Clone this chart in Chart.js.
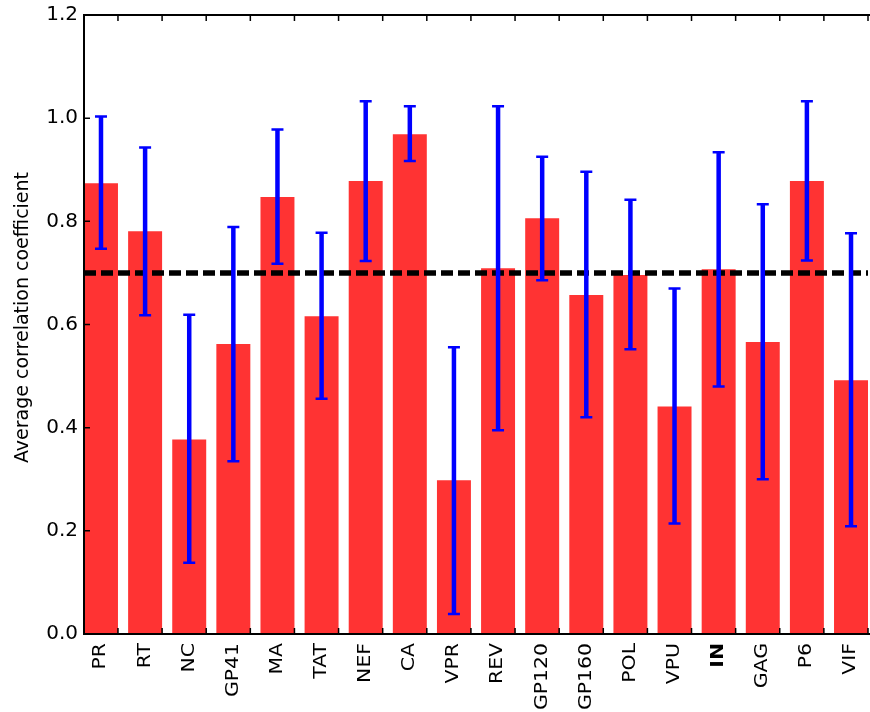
<!DOCTYPE html>
<html>
<head>
<meta charset="utf-8">
<script src="https://cdn.jsdelivr.net/npm/chart.js@4.4.1/dist/chart.umd.min.js"></script>
<style>
  html, body { margin: 0; padding: 0; background: #fff; }
  #wrap { width: 870px; height: 712px; }
</style>
</head>
<body>
<div id="wrap"><canvas id="chart"></canvas></div>
<script>
const genes = ["PR", "RT", "NC", "GP41", "MA", "TAT", "NEF", "CA", "VPR", "REV", "GP120", "GP160", "POL", "VPU", "IN", "GAG", "P6", "VIF"];
const meanCorr = [0.874, 0.781, 0.377, 0.562, 0.847, 0.616, 0.878, 0.969, 0.298, 0.709, 0.806, 0.657, 0.696, 0.441, 0.707, 0.566, 0.878, 0.492];
const errTop = [1.003, 0.943, 0.619, 0.789, 0.978, 0.778, 1.033, 1.023, 0.556, 1.023, 0.925, 0.896, 0.842, 0.670, 0.934, 0.833, 1.033, 0.777];
const errBottom = [0.747, 0.618, 0.138, 0.335, 0.718, 0.456, 0.723, 0.917, 0.039, 0.395, 0.686, 0.420, 0.552, 0.214, 0.480, 0.300, 0.724, 0.209];
const yTicks = [0.0, 0.2, 0.4, 0.6, 0.8, 1.0, 1.2];
const threshold = 0.7;
const yTitle = "Average correlation coefficient";

const barWidth = 0.77; // bar width in category units, bars start at integer positions
const xMax = genes.length - 1 + barWidth;
const font = "'DejaVu Sans', 'Bitstream Vera Sans', sans-serif";

// frame, inward ticks, labels and error bars, all placed through the chart scales
const axesPlugin = {
  id: "axesPlugin",
  afterDatasetsDraw(chart) {
    const { ctx, chartArea: a, scales: { x, y } } = chart;
    ctx.save();

    // error bars
    ctx.strokeStyle = "#0000ff";
    genes.forEach(function (g, i) {
      const px = x.getPixelForValue(i + barWidth / 2);
      const top = y.getPixelForValue(errTop[i]);
      const bot = y.getPixelForValue(errBottom[i]);
      ctx.lineWidth = 4.5;
      ctx.beginPath();
      ctx.moveTo(px, top);
      ctx.lineTo(px, bot);
      ctx.stroke();
      ctx.lineWidth = 2.5;
      ctx.beginPath();
      ctx.moveTo(px - 6, top);
      ctx.lineTo(px + 6, top);
      ctx.moveTo(px - 6, bot);
      ctx.lineTo(px + 6, bot);
      ctx.stroke();
    });

    // frame (right spine falls off the picture)
    ctx.strokeStyle = "#000";
    ctx.lineWidth = 2;
    ctx.beginPath();
    ctx.moveTo(a.right + 2, a.top);
    ctx.lineTo(a.left, a.top);
    ctx.lineTo(a.left, a.bottom);
    ctx.lineTo(a.right + 2, a.bottom);
    ctx.stroke();

    // inward ticks
    ctx.lineWidth = 1.5;
    ctx.beginPath();
    yTicks.forEach(function (v) {
      const py = y.getPixelForValue(v);
      ctx.moveTo(a.left, py);
      ctx.lineTo(a.left + 6, py);
    });
    genes.forEach(function (g, i) {
      const px = x.getPixelForValue(i + barWidth);
      ctx.moveTo(px, a.bottom);
      ctx.lineTo(px, a.bottom - 6);
      ctx.moveTo(px, a.top);
      ctx.lineTo(px, a.top + 6);
    });
    ctx.stroke();

    // y tick labels
    ctx.fillStyle = "#000";
    ctx.font = "20px " + font;
    ctx.textAlign = "right";
    ctx.textBaseline = "middle";
    yTicks.forEach(function (v) {
      ctx.fillText(v.toFixed(1), a.left - 6, y.getPixelForValue(v));
    });

    // x tick labels, rotated, a little drawn out along the reading direction
    genes.forEach(function (g, i) {
      const px = x.getPixelForValue(i + barWidth / 2);
      ctx.save();
      ctx.translate(px, a.bottom + 9);
      ctx.rotate(-Math.PI / 2);
      ctx.scale(1.2, 1);
      ctx.font = (g === "IN" ? "bold " : "") + "17px " + font;
      ctx.textAlign = "right";
      ctx.textBaseline = "middle";
      ctx.fillText(g, 0, 0);
      ctx.restore();
    });

    // y title
    ctx.save();
    ctx.translate(27.5, (a.top + a.bottom) / 2 - 7);
    ctx.rotate(-Math.PI / 2);
    ctx.font = "19px " + font;
    ctx.textAlign = "center";
    ctx.textBaseline = "alphabetic";
    ctx.fillText(yTitle, 0, 0);
    ctx.restore();

    ctx.restore();
  }
};

const ctx = document.getElementById("chart");
new Chart(ctx, {
  type: "bar",
  data: {
    datasets: [
      {
        type: "bar",
        data: genes.map(function (g, i) { return { x: i + barWidth / 2, y: meanCorr[i] }; }),
        backgroundColor: "rgb(255, 51, 51)",
        borderWidth: 0,
        barPercentage: barWidth,
        categoryPercentage: 1,
        order: 2
      },
      {
        type: "line",
        data: [{ x: 0, y: threshold }, { x: xMax, y: threshold }],
        borderColor: "#000",
        borderWidth: 5.5,
        borderDash: [12, 5],
        pointRadius: 0,
        fill: false,
        order: 1
      }
    ]
  },
  options: {
    responsive: true,
    maintainAspectRatio: false,
    animation: false,
    layout: { padding: { left: 84, right: 2, top: 15, bottom: 78 } },
    plugins: {
      legend: { display: false },
      tooltip: { enabled: false }
    },
    scales: {
      x: {
        type: "linear",
        min: 0,
        max: xMax,
        offset: false,
        display: false,
        afterBuildTicks: function (scale) {
          scale.ticks = genes.map(function (g, i) { return { value: i + barWidth / 2 }; });
        }
      },
      y: {
        min: 0,
        max: 1.2,
        display: false
      }
    }
  },
  plugins: [axesPlugin]
});
</script>
</body>
</html>
